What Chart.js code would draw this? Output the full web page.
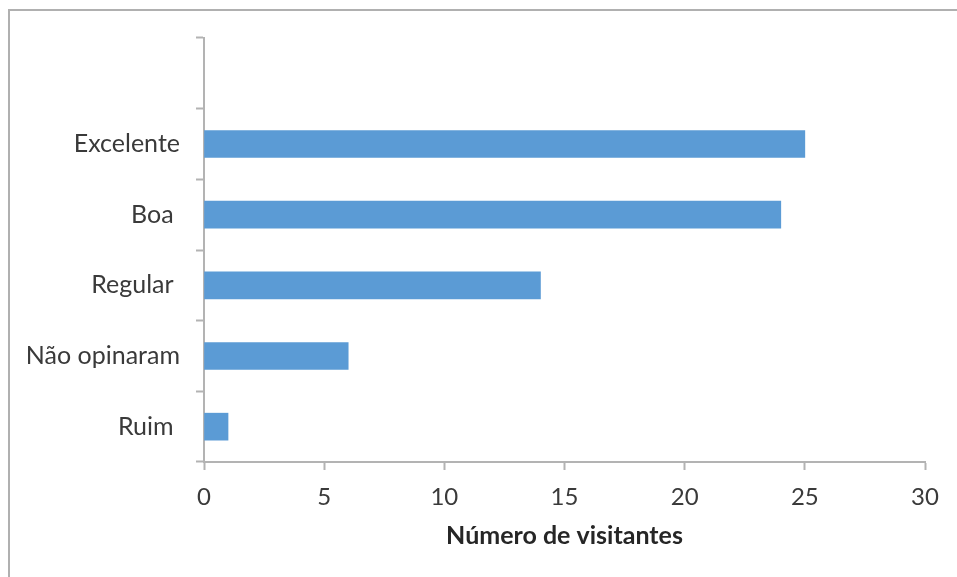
<!DOCTYPE html>
<html>
<head>
<meta charset="utf-8">
<script src="https://cdn.jsdelivr.net/npm/chart.js@4/dist/chart.umd.min.js"></script>
<style>
    body { margin: 0; background: #fff; }
    #wrap { position: relative; width: 957px; height: 577px; overflow: hidden; }
    #frame {
        position: absolute; left: 8px; top: 9px; width: 980px; height: 600px;
        border-left: 2px solid #b0b0b0; border-top: 2px solid #b0b0b0;
        pointer-events: none;
    }
    canvas { position: absolute; left: 0; top: 0; }
</style>
</head>
<body>
<div id="wrap">
    <canvas id="chart" width="957" height="577"></canvas>
    <div id="frame"></div>
</div>
<script>
// Rating categories (top slot is empty, as in the original)
const categories = ['', 'Excelente', 'Boa ', 'Regular ', 'Não opinaram', 'Ruim '];
const visitors = [null, 25, 24, 14, 6, 1];
const xTicks = [0, 5, 10, 15, 20, 25, 30];

const AXIS_GRAY = '#b3b3b3';
const TEXT_GRAY = '#3a3a3a';

const ctx = document.getElementById('chart').getContext('2d');
new Chart(ctx, {
    type: 'bar',
    data: {
        labels: categories,
        datasets: [{
            label: 'Número de visitantes',
            data: visitors,
            backgroundColor: '#5b9bd5',
            barThickness: 27
        }]
    },
    options: {
        responsive: false,
        animation: false,
        indexAxis: 'y',
        layout: {
            padding: { top: 38, right: 32, left: 0, bottom: 0 }
        },
        plugins: {
            legend: { display: false },
            tooltip: { enabled: false }
        },
        scales: {
            x: {
                min: xTicks[0],
                max: xTicks[xTicks.length - 1],
                afterBuildTicks: (scale) => {
                    scale.ticks = xTicks.map(v => ({ value: v }));
                },
                afterFit: (scale) => { scale.height = 115; },
                border: { color: AXIS_GRAY, width: 2 },
                grid: {
                    drawOnChartArea: false,
                    drawTicks: true,
                    tickLength: 8,
                    tickWidth: 2,
                    tickColor: AXIS_GRAY
                },
                ticks: {
                    color: TEXT_GRAY,
                    padding: 13,
                    font: { family: 'Lato', size: 24 }
                },
                title: {
                    display: true,
                    text: 'Número de visitantes',
                    color: '#262626',
                    font: { family: 'Lato', size: 25, weight: 'bold' },
                    padding: { top: 0, bottom: 26 }
                }
            },
            y: {
                offset: true,
                afterFit: (scale) => { scale.width = 204; },
                border: { color: AXIS_GRAY, width: 2 },
                grid: {
                    offset: true,
                    drawOnChartArea: false,
                    drawTicks: true,
                    tickLength: 8,
                    tickWidth: 2,
                    tickColor: AXIS_GRAY
                },
                ticks: {
                    color: TEXT_GRAY,
                    padding: 16,
                    font: { family: 'Lato', size: 25 }
                }
            }
        }
    }
});
</script>
</body>
</html>
